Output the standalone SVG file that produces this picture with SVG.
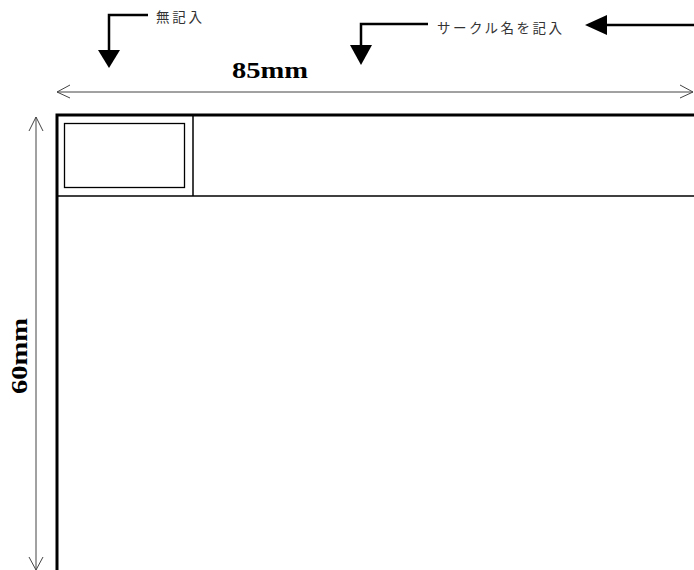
<svg xmlns="http://www.w3.org/2000/svg" width="694" height="570" viewBox="0 0 694 570">
<style>
.note{font-family:"Noto Sans CJK JP","Liberation Serif",serif;font-size:13.5px;fill:#333}
.dim{font-family:"Liberation Serif",serif;font-size:24px;font-weight:bold;fill:#000}
.dl{stroke:#444;stroke-width:1;fill:none}
.pt{stroke:#000;stroke-width:2.5;fill:none}
.head{fill:#000;stroke:none}
.frame{fill:none;stroke:#000}
</style>
<rect width="694" height="570" fill="#fff"/>
<g id="card">
<rect class="frame" x="57" y="115" width="700" height="500" stroke-width="3"/>
<line class="frame" x1="57" y1="196" x2="694" y2="196" stroke-width="1.5"/>
<line class="frame" x1="193" y1="115" x2="193" y2="196" stroke-width="1.5"/>
</g>
<g id="inner-box">
<rect class="frame" x="64.5" y="123.5" width="120" height="64" stroke-width="1.3"/>
</g>
<g id="label-blank">
<text class="note" x="156" y="22" textLength="46">無記入</text>
</g>
<g id="label-circle">
<text class="note" x="437" y="33" textLength="125">サークル名を記入</text>
</g>
<g id="dim-width">
<text class="dim" x="232" y="78" textLength="76" lengthAdjust="spacingAndGlyphs">85mm</text>
</g>
<g id="dim-height">
<text class="dim" transform="translate(27,356) rotate(-90)" x="0" y="0" text-anchor="middle" textLength="76" lengthAdjust="spacingAndGlyphs">60mm</text>
</g>
<g id="connectors">
<path class="pt" d="M148,15 H109 V52"/>
<polygon class="head" points="98,50 120,50 109,68"/>
<path class="pt" d="M428,24 H361 V47"/>
<polygon class="head" points="350,45 372,45 361,65"/>
<path class="pt" d="M694,25 H604"/>
<polygon class="head" points="607,15 607,35 585,25"/>
<line class="dl" x1="57" y1="92" x2="693" y2="92"/>
<path class="dl" d="M70,85 L57,92 L70,98"/>
<path class="dl" d="M680,85 L693,92 L680,98"/>
<line class="dl" x1="36" y1="117" x2="36" y2="570"/>
<path class="dl" d="M29,131 L36,117 L43,131"/>
<path class="dl" d="M29,557 L36,570 L43,557"/>
</g>
</svg>
